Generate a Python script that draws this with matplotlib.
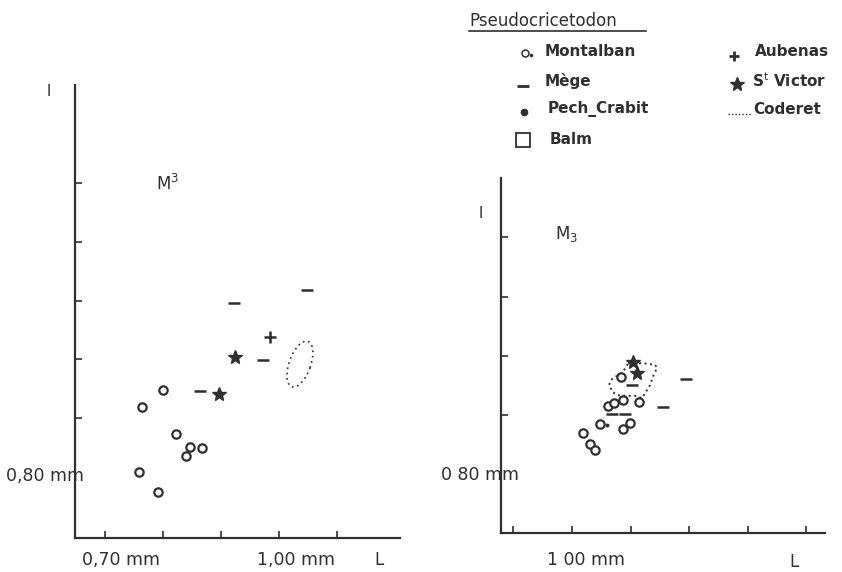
import numpy as np
import matplotlib.pyplot as plt
from matplotlib.patches import Ellipse, Polygon

INK = '#2f2f2f'

# ---- M3 (left panel): length L vs width l, mm
mont_L = [0.800, 0.764, 0.822, 0.847, 0.867, 0.840, 0.759, 0.791]
mont_l = [0.948, 0.919, 0.873, 0.851, 0.849, 0.836, 0.808, 0.774]
mege_L = [0.922, 1.048, 0.972, 0.864]
mege_l = [1.096, 1.118, 0.999, 0.946]
aub_L = [0.984]
aub_l = [1.038]
vic_L = [0.924, 0.897]
vic_l = [1.004, 0.941]
# Coderet range drawn as a dotted ellipse: centre, axes, angle
cod_centre = (1.036, 0.992)
cod_axes = (0.082, 0.037)
cod_angle = 70

# ---- M3 lower (right panel)
mont_L_r = [1.084, 1.061, 1.072, 1.087, 1.114, 1.048, 1.087, 1.099, 1.019, 1.031, 1.039]
mont_l_r = [0.965, 0.916, 0.921, 0.926, 0.923, 0.886, 0.877, 0.887, 0.871, 0.852, 0.842]
mege_L_r = [1.102, 1.195, 1.155, 1.068, 1.090]
mege_l_r = [0.951, 0.961, 0.914, 0.903, 0.903]
vic_L_r = [1.104, 1.111]
vic_l_r = [0.990, 0.971]
dot_L_r = [1.060]
dot_l_r = [0.884]
cod_L_r = [1.096, 1.121, 1.142, 1.145, 1.138, 1.133, 1.125, 1.119, 1.111,
           1.094, 1.078, 1.070, 1.063, 1.067, 1.073, 1.082, 1.090]
cod_l_r = [0.988, 0.988, 0.985, 0.980, 0.965, 0.951, 0.938, 0.929, 0.933,
           0.933, 0.934, 0.939, 0.951, 0.960, 0.965, 0.968, 0.978]

xticks_left = [0.7, 0.8, 0.9, 1.0, 1.1]
yticks_left = [0.9, 1.0, 1.1, 1.2, 1.3]
xticks_right = [0.9, 1.0, 1.1, 1.2, 1.3, 1.4]
yticks_right = [0.9, 1.0, 1.1, 1.2]

W, H = 842, 572
fig = plt.figure(figsize=(W / 100, H / 100), dpi=100)
fig.patch.set_facecolor('white')


def frac(x0, y0, x1, y1):
    # pixel box (top-left origin) -> figure fraction rect
    return [x0 / W, 1 - y1 / H, (x1 - x0) / W, (y1 - y0) / H]


def style(ax):
    for s in ['top', 'right']:
        ax.spines[s].set_visible(False)
    for s in ['left', 'bottom']:
        ax.spines[s].set_linewidth(1.6)
        ax.spines[s].set_color(INK)
    ax.tick_params(direction='in', length=5, width=1.2, color=INK,
                   labelleft=False, labelbottom=False)
    ax.patch.set_alpha(0)


def scatter_set(ax, L, l, kind):
    if kind == 'o':
        ax.plot(L, l, 'o', ms=6, mfc='white', mec=INK, mew=1.6, ls='none')
    elif kind == '-':
        ax.plot(L, l, '_', ms=8.5, mec=INK, mew=1.8, ls='none')
    elif kind == '+':
        ax.plot(L, l, '+', ms=8.5, mec=INK, mew=1.8, ls='none')
    elif kind == '*':
        ax.plot(L, l, '*', ms=10.5, mfc=INK, mec=INK, ls='none')
    elif kind == '.':
        ax.plot(L, l, 'o', ms=1.8, mfc=INK, mec=INK, ls='none')


# left panel
ax1 = fig.add_axes(frac(75, 85, 400, 538))
ax1.set_xlim(0.6483, 1.2086)
ax1.set_ylim(0.6963, 1.4667)
style(ax1)
ax1.set_xticks(xticks_left)
ax1.set_yticks(yticks_left)
scatter_set(ax1, mont_L, mont_l, 'o')
scatter_set(ax1, mege_L, mege_l, '-')
scatter_set(ax1, aub_L, aub_l, '+')
scatter_set(ax1, vic_L, vic_l, '*')
ax1.add_patch(Ellipse(cod_centre, cod_axes[0], cod_axes[1], angle=cod_angle,
                      fill=False, ec=INK, lw=1.2, ls=(0, (1, 2.2))))

# right panel
ax2 = fig.add_axes(frac(501, 178, 825, 533))
ax2.set_xlim(0.8788, 1.4317)
ax2.set_ylim(0.7025, 1.2992)
style(ax2)
ax2.set_xticks(xticks_right)
ax2.set_yticks(yticks_right)
scatter_set(ax2, mont_L_r, mont_l_r, 'o')
scatter_set(ax2, mege_L_r, mege_l_r, '-')
scatter_set(ax2, vic_L_r, vic_l_r, '*')
scatter_set(ax2, dot_L_r, dot_l_r, '.')
ax2.add_patch(Polygon(np.column_stack([cod_L_r, cod_l_r]), closed=True,
                      fill=False, ec=INK, lw=1.4, ls=(0, (1, 1.8))))

# overlay in pixel units for labels and the key
lax = fig.add_axes([0, 0, 1, 1])
lax.set_xlim(0, W)
lax.set_ylim(H, 0)
lax.set_axis_off()
lax.patch.set_alpha(0)

txt = dict(color=INK, va='center', ha='left')
# axis annotations
lax.text(49, 91, 'l', fontsize=11, ha='center', va='center', color=INK)
lax.text(481, 214, 'l', fontsize=11, ha='center', va='center', color=INK)
lax.text(156, 184, 'M$^3$', fontsize=12, **txt)
lax.text(555, 234, 'M$_3$', fontsize=12, **txt)
lax.text(6, 476, '0,80 mm', fontsize=12.5, **txt)
lax.text(441, 475, '0 80 mm', fontsize=12.5, **txt)
lax.text(82, 560, '0,70 mm', fontsize=12.5, **txt)
lax.text(257, 560, '1,00 mm', fontsize=12.5, **txt)
lax.text(547, 560, '1 00 mm', fontsize=12.5, **txt)
lax.text(374, 560, 'L', fontsize=12, **txt)
lax.text(789, 562, 'L', fontsize=12, **txt)

# key
lax.text(469, 21, 'Pseudocricetodon', fontsize=12, **txt)
lax.plot([469, 646], [31, 31], color=INK, lw=1.2)

kb = dict(fontsize=11, fontweight='bold', **txt)
lax.plot([525], [53], 'o', ms=5, mfc='white', mec=INK, mew=1.1)
lax.plot([531], [55], 'o', ms=1.5, mfc=INK, mec=INK)
lax.text(545, 52, 'Montalban', **kb)
lax.plot([523], [86], '_', ms=8, mec=INK, mew=2.0)
lax.text(545, 81, 'Mège', **kb)
lax.plot([524], [112], 'o', ms=4.5, mfc=INK, mec=INK)
lax.text(548, 109, 'Pech_Crabit', **kb)
lax.plot([523], [140], 's', ms=9.5, mfc='white', mec=INK, mew=1.3)
lax.text(550, 139, 'Balm', **kb)
lax.plot([734], [56], '+', ms=7.5, mec=INK, mew=2.0)
lax.text(755, 52, 'Aubenas', **kb)
lax.plot([737], [84], '*', ms=10.5, mfc=INK, mec=INK)
lax.text(752, 81, r'S$^\mathrm{t}$ Victor', **kb)
lax.plot([728, 752], [114, 114], color=INK, lw=1.0, ls=(0, (1, 1.5)))
lax.text(753, 109, 'Coderet', **kb)

fig.savefig('out.png', dpi=100, facecolor='white')
